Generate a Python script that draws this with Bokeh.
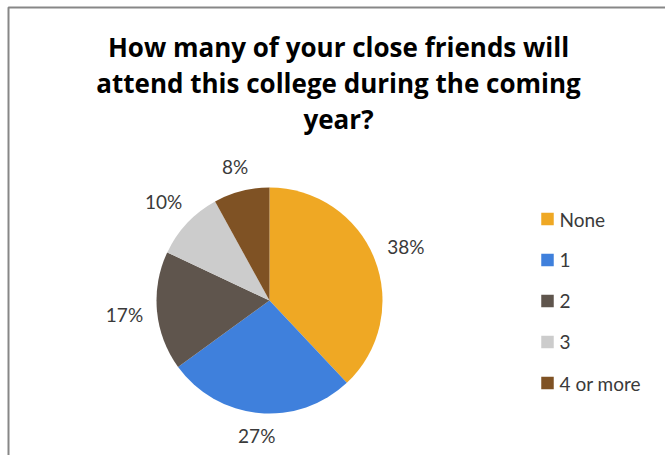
import math
from bokeh.plotting import figure
from bokeh.models import Range1d, BoxAnnotation, ColumnDataSource
from bokeh.core.properties import value
from bokeh.embed import file_html
from bokeh.resources import INLINE

# ---- data ----
title_lines = ["How many of your close friends will",
               "attend this college during the coming",
               "year?"]
categories = ["None", "1", "2", "3", "4 or more"]
percents = [38, 27, 17, 10, 8]
colors = ["#EFA824", "#3F80DC", "#5F554D", "#CCCCCC", "#7F5224"]

W, H = 665, 455
p = figure(width=W, height=H, output_backend="svg", toolbar_location=None,
           x_range=Range1d(0, W), y_range=Range1d(0, H), min_border=0)
p.axis.visible = False
p.grid.visible = False
p.outline_line_color = None
p.background_fill_color = "white"
p.border_fill_color = "white"

def Y(py):
    return H - py

# chart-area border (only top & left visible in reference)
p.add_layout(BoxAnnotation(left=8, right=W + 20, top=Y(7), bottom=-20,
                           fill_alpha=0, line_color="#878787", line_alpha=1.0,
                           line_width=2))

# title
p.text(x=[338] * len(title_lines), y=[Y(46), Y(82), Y(118)], text=title_lines,
       text_font=value("Open Sans"), text_font_style="bold", text_font_size="26px",
       text_color="#000000", text_align="center", text_baseline="middle")

# pie
cx, cy, R = 269, Y(300), 113
total = float(sum(percents))
starts, ends, mids = [], [], []
cum = 0.0
for v in percents:
    a0 = math.pi / 2 - 2 * math.pi * (cum + v) / total
    a1 = math.pi / 2 - 2 * math.pi * cum / total
    starts.append(a0)
    ends.append(a1)
    mids.append((a0 + a1) / 2)
    cum += v

src = ColumnDataSource(dict(start=starts, end=ends, color=colors))
p.wedge(x=cx, y=cy, radius=R, start_angle="start", end_angle="end",
        fill_color="color", line_color=None, source=src)

# data labels (outside end)
lw, lh, gap = 38, 16, 13
lx, ly, lt = [], [], []
for m, v in zip(mids, percents):
    c, s = math.cos(m), math.sin(m)
    d = R + gap + (lw / 2) * abs(c) + (lh / 2) * abs(s)
    lx.append(cx + d * c)
    ly.append(cy + d * s)
    lt.append(f"{v}%")
p.text(x=lx, y=ly, text=lt, text_font=value("Lato"), text_font_size="19px",
       text_color="#3A3A3A", text_align="center", text_baseline="middle")

# legend
leg_y = [Y(218.5 + 41 * i) for i in range(len(categories))]
p.scatter(x=[547] * len(categories), y=leg_y, marker="square", size=12.5,
          fill_color=colors, line_color=None)
p.text(x=[559] * len(categories), y=leg_y, text=categories,
       text_font=value("Lato"), text_font_size="19px", text_color="#3A3A3A",
       text_align="left", text_baseline="middle")

open("out.html", "w").write(file_html(p, INLINE))
